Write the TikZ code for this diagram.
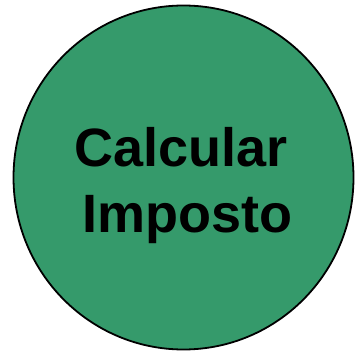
\documentclass[tikz,border=0pt]{standalone}
\usepackage{fontspec}
\setmainfont{Liberation Sans}
\usetikzlibrary{shapes.geometric}
\definecolor{procgreen}{RGB}{53,154,107}
\tikzset{
  proc/.style={ellipse, draw=black, line width=1.8pt, fill=procgreen, inner sep=0pt},
  lbl/.style={anchor=base, inner sep=0pt, font=\fontsize{54}{65}\selectfont\bfseries}
}
\begin{document}
\begin{tikzpicture}[x=1pt,y=-1pt]
\useasboundingbox (0,0) rectangle (355,352);
\node[proc, minimum width=340pt, minimum height=344pt] (c) at (183.5,177.5) {};
\node[lbl] (t1) at (181,167) {Calcular};
\node[lbl] (t2) at (187,232) {Imposto};
\end{tikzpicture}
\end{document}
